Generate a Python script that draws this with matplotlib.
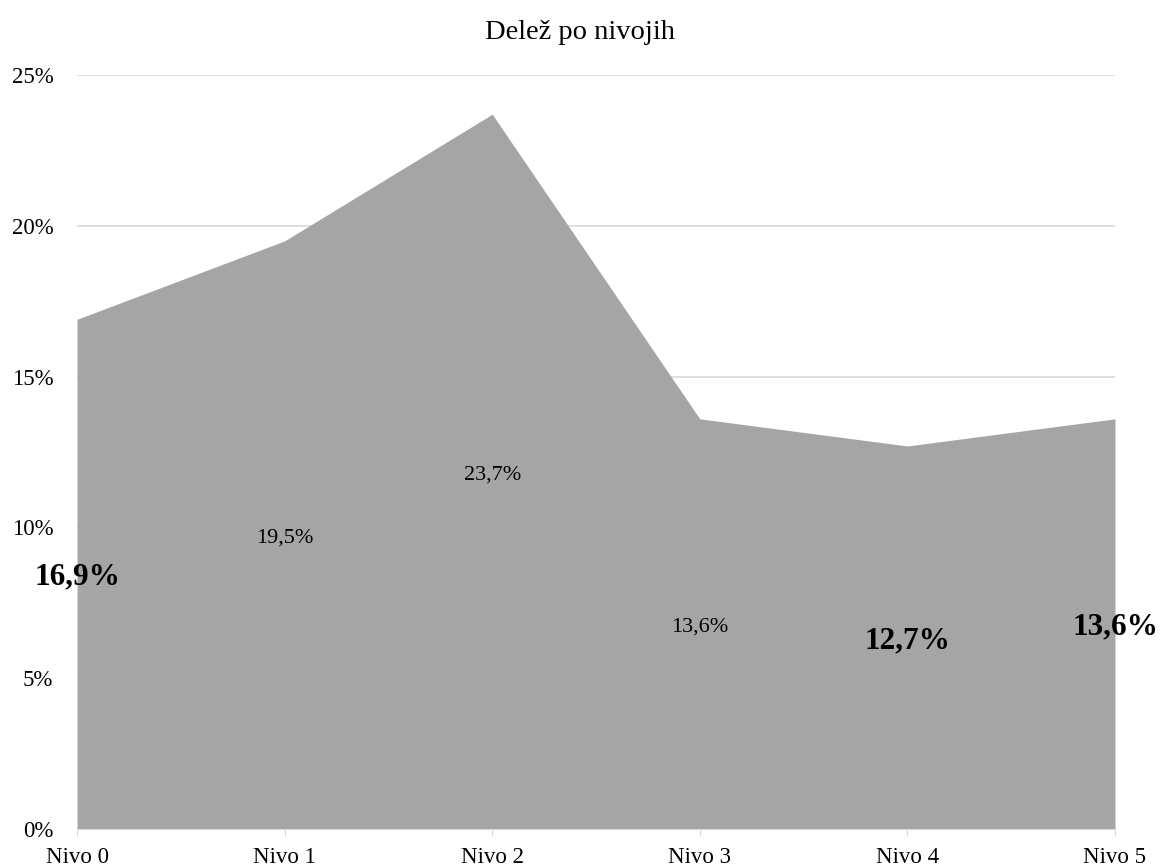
import matplotlib
matplotlib.use("Agg")
import matplotlib.pyplot as plt
from matplotlib.ticker import FuncFormatter

categories = ["Nivo 0", "Nivo 1", "Nivo 2", "Nivo 3", "Nivo 4", "Nivo 5"]
values = [16.9, 19.5, 23.7, 13.6, 12.7, 13.6]
label_text = ["16,9%", "19,5%", "23,7%", "13,6%", "12,7%", "13,6%"]
label_bold = [True, False, False, False, True, True]

plt.rcParams['font.family'] = ['Liberation Serif', 'DejaVu Serif']

fig = plt.figure(figsize=(11.6, 8.68), dpi=100)
ax = fig.add_axes([0.0664, 0.0449, 0.8948, 0.8687])

x = list(range(len(categories)))
ax.fill_between(x, values, 0, color='#A5A5A5', linewidth=0, zorder=2)

ax.set_xlim(0, len(categories) - 1)
ax.set_ylim(0, 25)
ax.set_yticks([0, 5, 10, 15, 20, 25])
ax.yaxis.set_major_formatter(FuncFormatter(lambda v, p: f"{int(v)}%"))
ax.set_xticks(x)
ax.set_xticklabels(categories)
ax.grid(axis='y', color='#D9D9D9', linewidth=1.2, zorder=0)
ax.set_axisbelow(True)
for s in ['top', 'right', 'left']:
    ax.spines[s].set_visible(False)
ax.spines['bottom'].set_color('#D9D9D9')
ax.tick_params(axis='y', length=0, labelsize=16.5, pad=17)
ax.tick_params(axis='x', length=5, color='#D9D9D9', labelsize=16.5, pad=8)

for xi, v, t, b in zip(x, values, label_text, label_bold):
    if b:
        ax.text(xi, v / 2 - 0.1, t, ha='center', va='center', fontsize=22.5, fontweight='bold', zorder=5, clip_on=False)
    else:
        ax.text(xi, v / 2 - 0.1, t, ha='center', va='center', fontsize=16, zorder=5)

fig.text(0.5, 0.962, "Delež po nivojih", ha='center', va='center', fontsize=20.5)

fig.savefig("out.png", dpi=100)
